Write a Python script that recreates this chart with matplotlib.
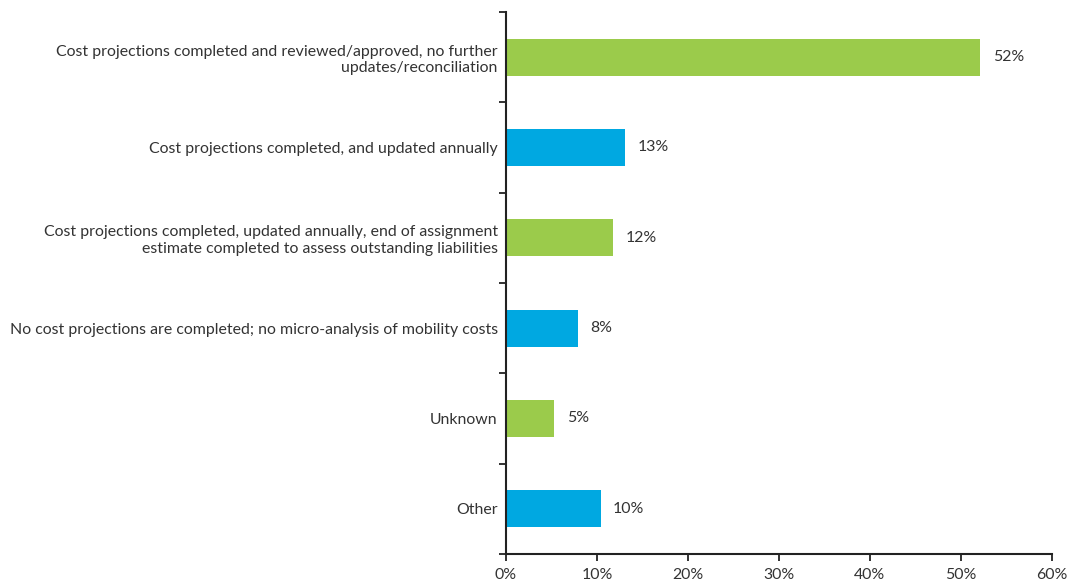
import matplotlib
matplotlib.use("Agg")
import matplotlib.pyplot as plt
import numpy as np

categories = [
    "Cost projections completed and reviewed/approved, no further\nupdates/reconciliation",
    "Cost projections completed, and updated annually",
    "Cost projections completed, updated annually, end of assignment\nestimate completed to assess outstanding liabilities",
    "No cost projections are completed; no micro-analysis of mobility costs",
    "Unknown",
    "Other",
]
values = [52.1, 13.1, 11.8, 7.9, 5.3, 10.4]
labels = ["52%", "13%", "12%", "8%", "5%", "10%"]
colors = ["#9BCB4B", "#00A8E1", "#9BCB4B", "#00A8E1", "#9BCB4B", "#00A8E1"]
xticks = [0, 10, 20, 30, 40, 50, 60]

plt.rcParams['font.family'] = ['Lato', 'DejaVu Sans']
text_color = "#333333"
fs = 11.4

fig = plt.figure(figsize=(10.83, 5.85), dpi=100)
ax = fig.add_axes([506/1083, 1-554/585, (1052-506)/1083, (554-12)/585])

n = len(categories)
y = np.arange(n)
ax.barh(y, values, height=0.41, color=colors, zorder=2)
ax.set_ylim(n - 0.5, -0.5)
ax.set_xlim(0, 60)

ax.set_yticks(y)
ax.set_yticklabels(categories, fontsize=fs, color=text_color, ha='right', linespacing=1.25)
ax.tick_params(axis='y', which='major', length=0, pad=6)
ax.set_yticks(np.arange(n + 1) - 0.5, minor=True)
ax.tick_params(axis='y', which='minor', length=5, width=1.3, color="#222222", direction='out')

ax.set_xticks(xticks)
ax.set_xticklabels([f"{t}%" for t in xticks], fontsize=fs, color=text_color)
ax.tick_params(axis='x', length=5, width=1.3, color="#222222", direction='out', pad=5)

for s in ['top', 'right']:
    ax.spines[s].set_visible(False)
for s in ['left', 'bottom']:
    ax.spines[s].set_color("#222222")
    ax.spines[s].set_linewidth(1.5)

for yi, v, lab in zip(y, values, labels):
    ax.annotate(lab, (v, yi), xytext=(9, 0), textcoords='offset points',
                va='center', ha='left', fontsize=fs, color=text_color)

fig.savefig("out.png", dpi=100)
